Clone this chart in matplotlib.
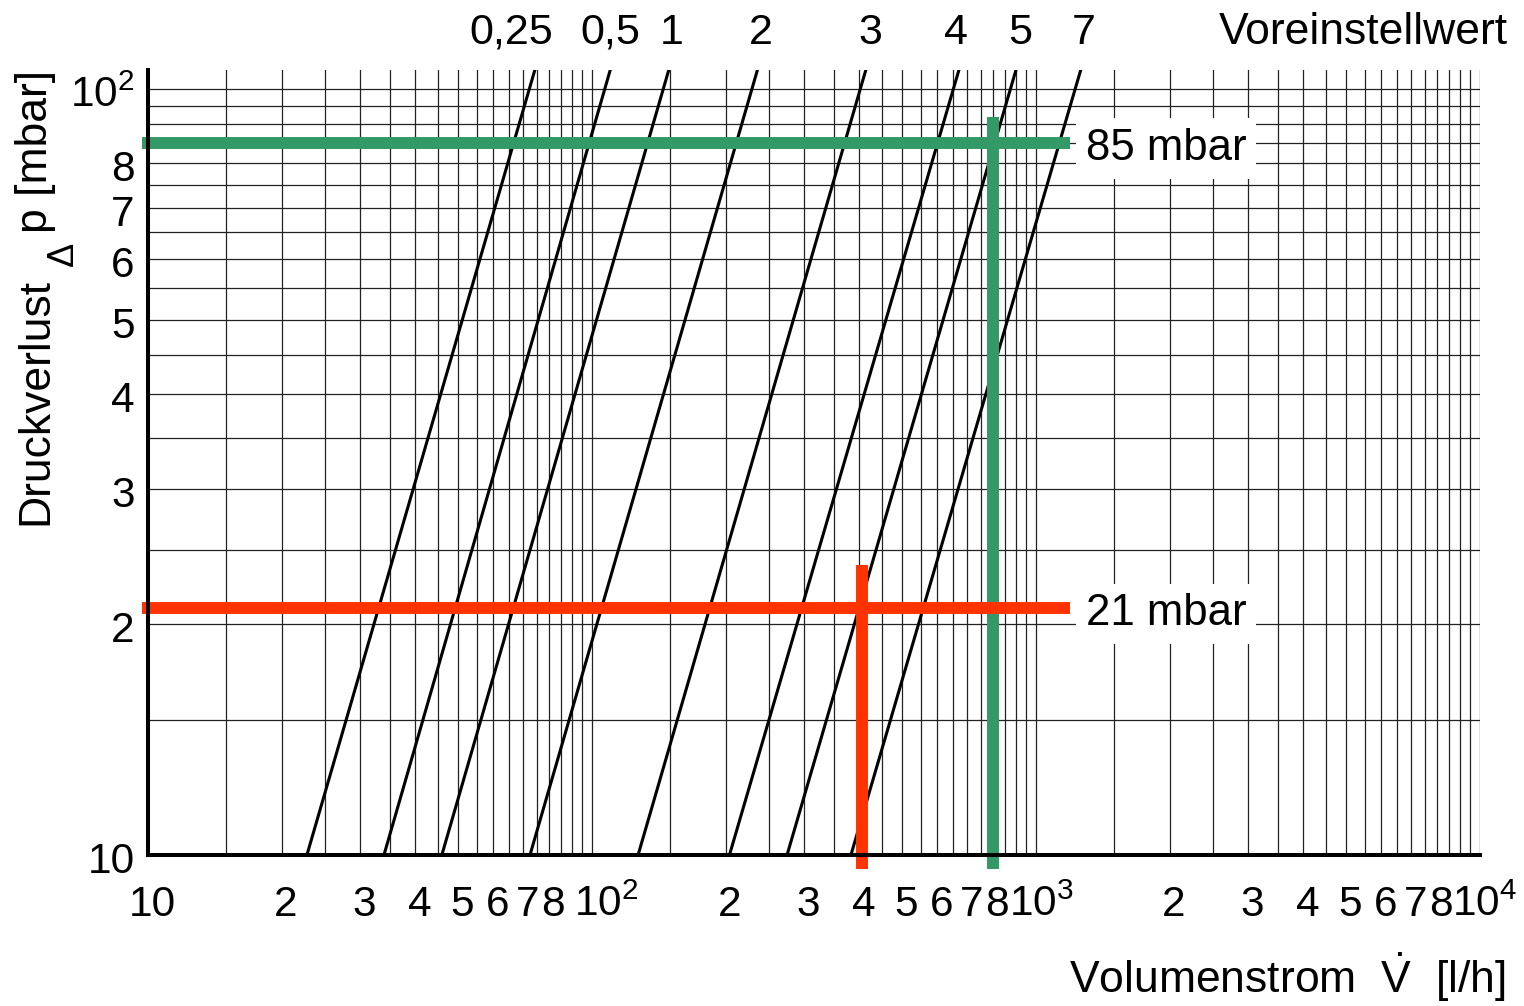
import numpy as np
import matplotlib
matplotlib.use("Agg")
import matplotlib.pyplot as plt
import matplotlib.transforms as mtransforms
from matplotlib.ticker import FixedLocator, NullLocator

plt.rcParams['font.family'] = ['Liberation Sans', 'DejaVu Sans']
plt.rcParams['mathtext.fontset'] = 'custom'
plt.rcParams['mathtext.rm'] = 'Liberation Sans'
plt.rcParams['mathtext.it'] = 'Liberation Sans:italic'
plt.rcParams['mathtext.bf'] = 'Liberation Sans:bold'

# preset lines: flow (l/h) where each line meets 10 mbar (bottom) and the top edge (106 mbar)
presets = ['0,25', '0,5', '1', '2', '3', '4', '5', '7']
flow_at_10 = [22.8, 34.0, 45.9, 72.5, 127, 204, 275, 383]
flow_at_top = [74.4, 110, 149, 236, 414, 671, 902, 1262]
dp_ends = [10, 106]

# worked examples
green_flow, green_dp = 800, 85
red_flow, red_dp = 405, 21

x_ticks = [10, 20, 30, 40, 50, 60, 70, 80, 100, 200, 300, 400, 500, 600, 700, 800,
           1000, 2000, 3000, 4000, 5000, 6000, 7000, 8000, 10000]
x_labels = ['10', '2', '3', '4', '5', '6', '7', '8', r'$10^2$', '2', '3', '4', '5', '6', '7', '8',
            r'$10^3$', '2', '3', '4', '5', '6', '7', '8', r'$10^4$']
y_ticks = [10, 20, 30, 40, 50, 60, 70, 80, 100]
y_labels = ['10', '2', '3', '4', '5', '6', '7', '8', r'$10^2$']

W, H = 1524, 1006
fig = plt.figure(figsize=(W / 100, H / 100), dpi=100)
ax = fig.add_axes([148 / W, (H - 855) / H, (1480 - 148) / W, (855 - 69.5) / H])
ax.set_xscale('log')
ax.set_yscale('log')
ax.set_xlim(10, 10000)
ax.set_ylim(10, 106)

# grid every half step in each decade
grid_x = [d * k for d in (10, 100, 1000) for k in np.arange(1, 10, 0.5)] + [10000]
grid_y = list(range(10, 101, 5))
ax.xaxis.set_major_locator(FixedLocator(grid_x))
ax.yaxis.set_major_locator(FixedLocator(grid_y))
ax.xaxis.set_minor_locator(NullLocator())
ax.yaxis.set_minor_locator(NullLocator())
ax.tick_params(which='both', length=0, labelbottom=False, labelleft=False)
ax.grid(True, color='#222222', lw=0.9)
ax.set_axisbelow(True)

for s in ['top', 'right']:
    ax.spines[s].set_visible(False)
for s in ['left', 'bottom']:
    ax.spines[s].set_linewidth(2.9)
    ax.spines[s].set_zorder(5)

# preset curves
for lo, hi in zip(flow_at_10, flow_at_top):
    ax.plot([lo, hi], dp_ends, color='black', lw=2.2, solid_capstyle='butt', zorder=3)

# example lines
green = '#339966'
red = '#ff3300'
line_start, line_end = 9.69, 1193
ax.plot([line_start, line_end], [green_dp, green_dp], color=green, lw=8.6,
        solid_capstyle='butt', clip_on=False, zorder=4)
ax.plot([green_flow, green_flow], [9.58, 91.8], color=green, lw=8.6,
        solid_capstyle='butt', clip_on=False, zorder=4)
ax.plot([line_start, line_end], [red_dp, red_dp], color=red, lw=8.6,
        solid_capstyle='butt', clip_on=False, zorder=4)
ax.plot([red_flow, red_flow], [9.58, 23.9], color=red, lw=8.6,
        solid_capstyle='butt', clip_on=False, zorder=4)

for dp, txt in [(green_dp, '85 mbar'), (red_dp, '21 mbar')]:
    tr = mtransforms.offset_copy(ax.transData, fig=fig, x=16, y=-17, units='dots')
    ax.text(line_end, dp, txt, transform=tr, fontsize=31.5, ha='left', va='baseline',
            bbox=dict(facecolor='white', edgecolor='none', boxstyle='square,pad=0.22'),
            zorder=4, clip_on=False)

# tick labels drawn by hand so the baselines line up
xt = mtransforms.blended_transform_factory(ax.transData, ax.transAxes)
for v, lab in zip(x_ticks, x_labels):
    dx = 4
    if lab.startswith('$'):
        dx = 14 if v == 100 else 5
    ax.text(v, 0, lab, transform=mtransforms.offset_copy(xt, fig=fig, x=dx, y=-61, units='dots'),
            fontsize=30.5, ha='center', va='baseline', clip_on=False)

yt = mtransforms.blended_transform_factory(ax.transAxes, ax.transData)
for v, lab in zip(y_ticks, y_labels):
    ax.text(0, v, lab, transform=mtransforms.offset_copy(yt, fig=fig, x=-13.5, y=-18, units='dots'),
            fontsize=30.5, ha='right', va='baseline', clip_on=False)

# preset labels above the line ends
label_dx = [-24, 0, 3, 3, 4, -3, 4, 3]
for name, hi, dx in zip(presets, flow_at_top, label_dx):
    ax.text(hi, 1, name, transform=mtransforms.offset_copy(xt, fig=fig, x=dx, y=26, units='dots'),
            fontsize=31, ha='center', va='baseline', clip_on=False)

fig.text(1508 / W, 1 - 43.5 / H, 'Voreinstellwert', fontsize=32, ha='right', va='baseline')
fig.text(1506 / W, 1 - 993 / H, r'Volumenstrom  $\dot{\mathrm{V}}$  [l/h]', fontsize=32,
         ha='right', va='baseline')

# y axis label with lowered delta
fig.text(47 / W, 1 - 525 / H, 'Druckverlust', fontsize=32, rotation=90,
         rotation_mode='anchor', ha='left', va='baseline')
fig.text(73 / W, 1 - 266 / H, '\u0394', fontsize=26, rotation=90,
         rotation_mode='anchor', ha='left', va='baseline')
fig.text(47 / W, 1 - 233 / H, 'p [mbar]', fontsize=32, rotation=90,
         rotation_mode='anchor', ha='left', va='baseline')

fig.savefig('out.png', dpi=100)
